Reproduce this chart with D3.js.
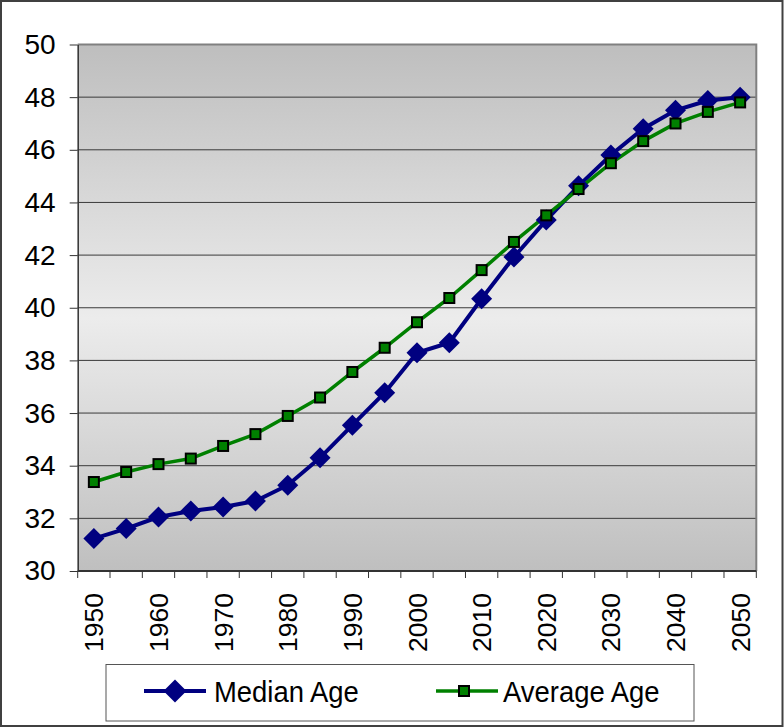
<!DOCTYPE html>
<html lang="en">
<head>
    <meta charset="UTF-8">
    <title>Median and Average Age</title>
    <script src="https://cdn.jsdelivr.net/npm/d3@7"></script>
    <style>
        body {
            margin: 0;
            padding: 0;
            background-color: #fff;
        }

        svg {
            display: block;
            font-family: "Liberation Sans", Arial, sans-serif;
        }
    </style>
</head>
<body>
    <svg width="784" height="728"></svg>
    <script>
        // chart data
        const years = [1950, 1955, 1960, 1965, 1970, 1975, 1980, 1985, 1990, 1995, 2000,
                       2005, 2010, 2015, 2020, 2025, 2030, 2035, 2040, 2045, 2050];
        const medianAge = [31.23, 31.61, 32.05, 32.28, 32.43, 32.66, 33.26, 34.3, 35.54, 36.77, 38.29,
                           38.67, 40.34, 41.93, 43.33, 44.63, 45.8, 46.8, 47.5, 47.87, 48.0];
        const averageAge = [33.38, 33.76, 34.06, 34.27, 34.75, 35.2, 35.89, 36.59, 37.56, 38.48, 39.45,
                            40.37, 41.43, 42.5, 43.51, 44.51, 45.49, 46.33, 47.0, 47.44, 47.8];
        const yTicks = [30, 32, 34, 36, 38, 40, 42, 44, 46, 48, 50];
        const xLabels = [1950, 1960, 1970, 1980, 1990, 2000, 2010, 2020, 2030, 2040, 2050];
        const seriesNames = ["Median Age", "Average Age"];

        const svg = d3.select("svg");
        const plot = {left: 77.7, right: 756.3, top: 44.5, bottom: 571};

        const x = d3.scaleBand().domain(years).range([plot.left, plot.right]);
        const y = d3.scaleLinear().domain([30, 50]).range([plot.bottom, plot.top]);
        const cx = d => x(d) + x.bandwidth() / 2;

        // outer frame
        svg.append("rect")
            .attr("x", 1).attr("y", 1)
            .attr("width", 781.5).attr("height", 725)
            .attr("fill", "#fff")
            .attr("stroke", "#404040")
            .attr("stroke-width", 2);

        // plot background gradient
        const grad = svg.append("defs").append("linearGradient")
            .attr("id", "bg")
            .attr("x1", 0).attr("y1", 0).attr("x2", 0).attr("y2", 1);
        grad.append("stop").attr("offset", "0%").attr("stop-color", "#bebebe");
        grad.append("stop").attr("offset", "52%").attr("stop-color", "#ececec");
        grad.append("stop").attr("offset", "100%").attr("stop-color", "#bfbfbf");

        svg.append("rect")
            .attr("x", plot.left).attr("y", plot.top)
            .attr("width", plot.right - plot.left)
            .attr("height", plot.bottom - plot.top)
            .attr("fill", "url(#bg)");

        // gridlines
        svg.append("g")
            .selectAll("line")
            .data(yTicks.slice(1, -1))
            .enter().append("line")
            .attr("x1", plot.left).attr("x2", plot.right)
            .attr("y1", d => y(d)).attr("y2", d => y(d))
            .attr("stroke", "#3a3a3a")
            .attr("stroke-width", 1);

        // top and right border of plot
        svg.append("path")
            .attr("d", `M${plot.left},${plot.top}H${plot.right}V${plot.bottom}`)
            .attr("fill", "none")
            .attr("stroke", "#808080")
            .attr("stroke-width", 2);

        // y axis
        const yAxis = svg.append("g")
            .attr("transform", `translate(${plot.left},0)`)
            .call(d3.axisLeft(y).tickValues(yTicks).tickSize(8).tickPadding(14).tickSizeOuter(0));
        yAxis.select(".domain").attr("stroke", "#333").attr("stroke-width", 1.5);
        yAxis.selectAll(".tick line").attr("stroke", "#333");
        yAxis.selectAll(".tick text")
            .attr("font-size", 28)
            .attr("font-family", "Liberation Sans, Arial, sans-serif")
            .attr("fill", "#000");

        // x axis: ticks at category boundaries
        const xAxisG = svg.append("g");
        xAxisG.append("line")
            .attr("x1", plot.left).attr("x2", plot.right)
            .attr("y1", plot.bottom).attr("y2", plot.bottom)
            .attr("stroke", "#333")
            .attr("stroke-width", 2);
        const bounds = years.map(d => x(d)).concat([plot.right]);
        xAxisG.selectAll(".xtick")
            .data(bounds)
            .enter().append("line")
            .attr("class", "xtick")
            .attr("x1", d => d).attr("x2", d => d)
            .attr("y1", plot.bottom).attr("y2", plot.bottom + 7)
            .attr("stroke", "#333")
            .attr("stroke-width", 1);
        xAxisG.selectAll(".xlabel")
            .data(xLabels)
            .enter().append("text")
            .attr("class", "xlabel")
            .attr("transform", d => `translate(${cx(d)},${plot.bottom + 22}) rotate(-90)`)
            .attr("text-anchor", "end")
            .attr("dy", "0.36em")
            .attr("font-size", 26.5)
            .text(d => d);

        // series
        const line = d3.line()
            .x((d, i) => cx(years[i]))
            .y(d => y(d));

        const diamond = s => `M0,${-s}L${s},0L0,${s}L${-s},0Z`;

        svg.append("path")
            .datum(medianAge)
            .attr("d", line)
            .attr("fill", "none")
            .attr("stroke", "#000080")
            .attr("stroke-width", 4);

        svg.append("path")
            .datum(averageAge)
            .attr("d", line)
            .attr("fill", "none")
            .attr("stroke", "#008000")
            .attr("stroke-width", 3.5);

        svg.append("g")
            .selectAll("path")
            .data(medianAge)
            .enter().append("path")
            .attr("transform", (d, i) => `translate(${cx(years[i])},${y(d)})`)
            .attr("d", diamond(10.5))
            .attr("fill", "#000080");

        svg.append("g")
            .selectAll("rect")
            .data(averageAge)
            .enter().append("rect")
            .attr("x", (d, i) => cx(years[i]) - 5)
            .attr("y", d => y(d) - 5)
            .attr("width", 10).attr("height", 10)
            .attr("fill", "#008000")
            .attr("stroke", "#000")
            .attr("stroke-width", 2);

        // legend
        const legend = svg.append("g");
        legend.append("rect")
            .attr("x", 106).attr("y", 664.5)
            .attr("width", 588).attr("height", 56.5)
            .attr("fill", "#fff")
            .attr("stroke", "#555")
            .attr("stroke-width", 1);

        const ly = 691;
        legend.append("line")
            .attr("x1", 144).attr("x2", 206)
            .attr("y1", ly).attr("y2", ly)
            .attr("stroke", "#000080").attr("stroke-width", 4);
        legend.append("path")
            .attr("transform", `translate(175,${ly})`)
            .attr("d", diamond(11.5))
            .attr("fill", "#000080");
        legend.append("text")
            .attr("transform", `translate(214,${ly}) scale(0.98,1.08)`)
            .attr("dy", "0.36em")
            .attr("font-size", 28)
            .text(seriesNames[0]);

        legend.append("line")
            .attr("x1", 436).attr("x2", 498)
            .attr("y1", ly).attr("y2", ly)
            .attr("stroke", "#008000").attr("stroke-width", 3.5);
        legend.append("rect")
            .attr("x", 459).attr("y", ly - 5)
            .attr("width", 10).attr("height", 10)
            .attr("fill", "#008000")
            .attr("stroke", "#000").attr("stroke-width", 2);
        legend.append("text")
            .attr("transform", `translate(503,${ly}) scale(0.98,1.08)`)
            .attr("dy", "0.36em")
            .attr("font-size", 28)
            .text(seriesNames[1]);
    </script>
</body>
</html>
